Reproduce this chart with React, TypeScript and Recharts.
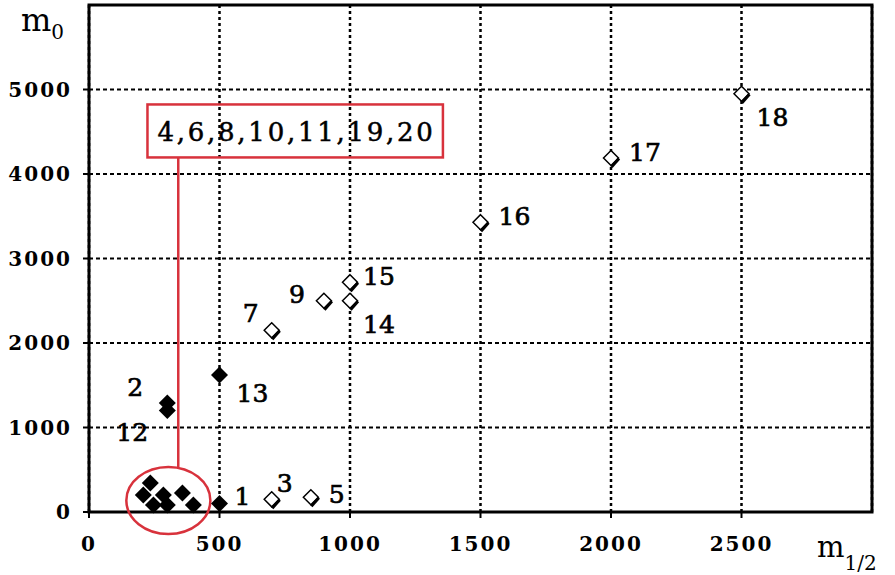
import React from 'react';
import {
  CartesianGrid,
  Label,
  ReferenceArea,
  ReferenceLine,
  Scatter,
  ScatterChart,
  XAxis,
  YAxis,
} from 'recharts';

// open diamonds
const openIds = ['3', '5', '7', '9', '14', '15', '16', '17', '18'];
const openM12 = [700, 850, 700, 900, 1000, 1000, 1500, 2000, 2500];
const openM0 = [150, 175, 2150, 2500, 2500, 2720, 3430, 4190, 4950];

// filled diamonds (4,6,8,10,11,19,20 sit in the circled cluster)
const filledIds = ['1', '2', '12', '13', '4', '6', '8', '10', '11', '19', '20'];
const filledM12 = [500, 300, 300, 500, 235, 208, 285, 358, 300, 400, 247];
const filledM0 = [100, 1290, 1200, 1620, 343, 201, 201, 225, 83, 83, 83];

const xTicks = [0, 500, 1000, 1500, 2000, 2500];
const yTicks = [0, 1000, 2000, 3000, 4000, 5000];

const clusterLabel = '4,6,8,10,11,19,20';

// point label placement (dx, dy of baseline) in px
const labelOffsets: Record<string, [number, number]> = {
  '1': [15, 1],
  '2': [-40, -7],
  '12': [-51, 30],
  '13': [17, 27],
  '3': [5, -7],
  '5': [18, 6],
  '7': [-29, -8],
  '9': [-35, 2],
  '14': [13, 32],
  '15': [13, 3],
  '16': [18, 3],
  '17': [18, 3],
  '18': [15, 32],
};

const RED = '#d8323c';
const SERIF = '"DejaVu Serif", serif';

const openData = openIds.map((id, i) => ({ id, x: openM12[i], y: openM0[i] }));
const filledData = filledIds.map((id, i) => ({ id, x: filledM12[i], y: filledM0[i] }));

function PointLabel({ cx, cy, id }: { cx: number; cy: number; id: string }) {
  const off = labelOffsets[id];
  if (!off) return null;
  return (
    <text
      x={cx + off[0]}
      y={cy + off[1]}
      fontFamily={SERIF}
      fontSize={25}
      fill="#000"
      stroke="#000"
      strokeWidth={0.7}
    >
      {id}
    </text>
  );
}

function OpenDiamond(props: any) {
  const { cx, cy, payload } = props;
  const r = 7.5;
  return (
    <g>
      <polygon
        points={`${cx},${cy - r} ${cx + r},${cy} ${cx},${cy + r} ${cx - r},${cy}`}
        fill="#fff"
        stroke="#000"
        strokeWidth={1.5}
      />
      <line x1={cx + r + 0.5} y1={cy + 0.5} x2={cx + 0.5} y2={cy + r + 1.5} stroke="#000" strokeWidth={3} />
      <PointLabel cx={cx} cy={cy} id={payload.id} />
    </g>
  );
}

function FilledDiamond(props: any) {
  const { cx, cy, payload } = props;
  const r = 8.5;
  return (
    <g>
      <polygon points={`${cx},${cy - r} ${cx + r},${cy} ${cx},${cy + r} ${cx - r},${cy}`} fill="#000" />
      <PointLabel cx={cx} cy={cy} id={payload.id} />
    </g>
  );
}

function ClusterBox(props: any) {
  const { x, y, width, height } = props;
  return (
    <g>
      <rect x={x} y={y} width={width} height={height} fill="none" stroke={RED} strokeWidth={2.5} />
      <text
        x={x + 10}
        y={y + height / 2 + 10}
        fontFamily={SERIF}
        fontSize={26}
        fill="#000"
        stroke="#000"
        strokeWidth={0.5}
        textLength={width - 20}
        lengthAdjust="spacing"
      >
        {clusterLabel}
      </text>
    </g>
  );
}

function ClusterEllipse(props: any) {
  const { x, y, width, height } = props;
  return (
    <ellipse
      cx={x + width / 2}
      cy={y + height / 2}
      rx={width / 2}
      ry={height / 2}
      fill="none"
      stroke={RED}
      strokeWidth={2.5}
    />
  );
}

const tickStyle = { fontFamily: SERIF, fontSize: 20, fontWeight: 'bold', fill: '#000', letterSpacing: 2 };

export default function App() {
  return (
    <div style={{ position: 'absolute', left: 0, top: 0, background: '#fff' }}>
      <ScatterChart width={895} height={575} margin={{ top: 5, right: 23, bottom: 0, left: 0 }}>
        <CartesianGrid vertical={false} stroke="#000" strokeWidth={2} strokeDasharray="4 3" />
        <CartesianGrid horizontal={false} stroke="#000" strokeWidth={2.5} strokeDasharray="3 3" />
        <XAxis
          type="number"
          dataKey="x"
          domain={[0, 3000]}
          ticks={xTicks}
          height={63}
          axisLine={false}
          tickLine={{ stroke: '#000', strokeWidth: 2 }}
          tickSize={6}
          tickMargin={19}
          tick={tickStyle}
        >
          <Label
            content={() => (
              <text x={817} y={557} fontFamily={SERIF} fill="#000">
                <tspan fontSize={29}>m</tspan>
                <tspan fontSize={20} dy={13}>1/2</tspan>
              </text>
            )}
          />
        </XAxis>
        <YAxis
          type="number"
          dataKey="y"
          domain={[0, 6000]}
          ticks={yTicks}
          width={89}
          axisLine={false}
          tickLine={{ stroke: '#000', strokeWidth: 2 }}
          tickSize={6}
          tickMargin={11}
          tick={tickStyle}
        >
          <Label
            content={() => (
              <text x={21} y={31} fontFamily={SERIF} fill="#000">
                <tspan fontSize={32}>m</tspan>
                <tspan fontSize={20} dy={8}>0</tspan>
              </text>
            )}
          />
        </YAxis>
        <ReferenceArea x1={0} x2={3000} y1={0} y2={6000} fill="none" stroke="#000" strokeWidth={3} />
        <ReferenceArea x1={224} x2={1356} y1={4196} y2={4823} shape={ClusterBox} ifOverflow="visible" />
        <ReferenceLine
          segment={[
            { x: 342, y: 4196 },
            { x: 342, y: 532 },
          ]}
          stroke={RED}
          strokeWidth={2.5}
          ifOverflow="visible"
        />
        <ReferenceArea x1={143} x2={465} y1={-260} y2={532} shape={ClusterEllipse} ifOverflow="visible" />
        <Scatter data={filledData} shape={FilledDiamond} isAnimationActive={false} />
        <Scatter data={openData} shape={OpenDiamond} isAnimationActive={false} />
      </ScatterChart>
    </div>
  );
}
